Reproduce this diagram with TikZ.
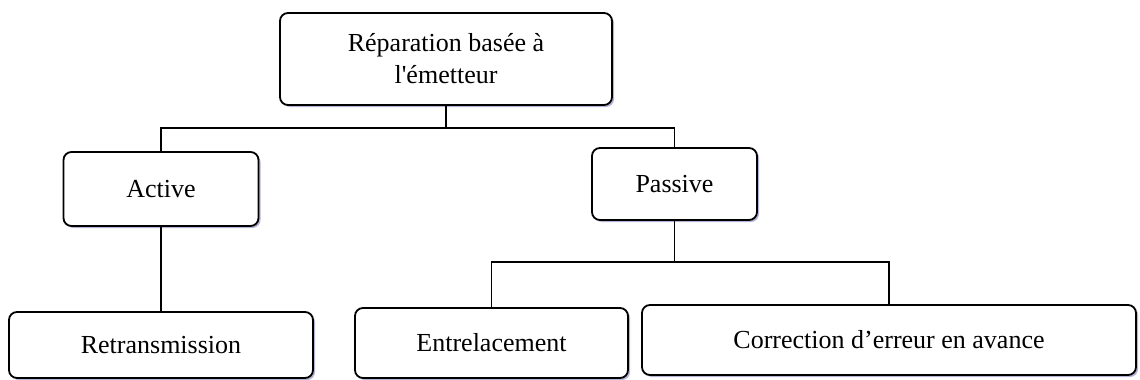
\documentclass[tikz,border=0pt]{standalone}
\usepackage{fontspec}
\setmainfont{Liberation Serif}[Ligatures=TeXOff]
\usetikzlibrary{shadows}
\begin{document}
\begin{tikzpicture}[x=1pt,y=-1pt,
  box/.style={draw=black, line width=1.8pt, rounded corners=8pt, fill=white,
    inner sep=0pt, align=center, font=\fontsize{26}{32}\selectfont,
    drop shadow={shadow xshift=2pt, shadow yshift=-2pt, fill=blue!30!gray, opacity=0.45}},
  link/.style={draw=black, line width=1.7pt}]
\useasboundingbox[fill=white] (0,0) rectangle (1140,380);
\node[box, minimum width=332pt, minimum height=92pt] (root) at (446,59) {Réparation basée à\\l'émetteur};
\node[box, minimum width=195pt, minimum height=74pt] (active) at (161,189) {Active};
\node[box, minimum width=165pt, minimum height=72pt] (passive) at (674.5,184) {Passive};
\node[box, minimum width=304pt, minimum height=66pt] (retrans) at (161,345) {Retransmission};
\node[box, minimum width=273pt, minimum height=70pt] (entre) at (491.5,343) {Entrelacement};
\node[box, minimum width=494pt, minimum height=70pt] (corr) at (889,340) {Correction d’erreur en avance};
\coordinate (j1) at (446,128);
\coordinate (j2) at (674.5,262);
\draw[link] (root.south) -- (j1);
\draw[link] (active.north) -- (active.north |- j1) -- (passive.north |- j1) -- (passive.north);
\draw[link] (active.south) -- (retrans.north);
\draw[link] (passive.south) -- (j2);
\draw[link] (entre.north) -- (entre.north |- j2) -- (corr.north |- j2) -- (corr.north);
\end{tikzpicture}
\end{document}
